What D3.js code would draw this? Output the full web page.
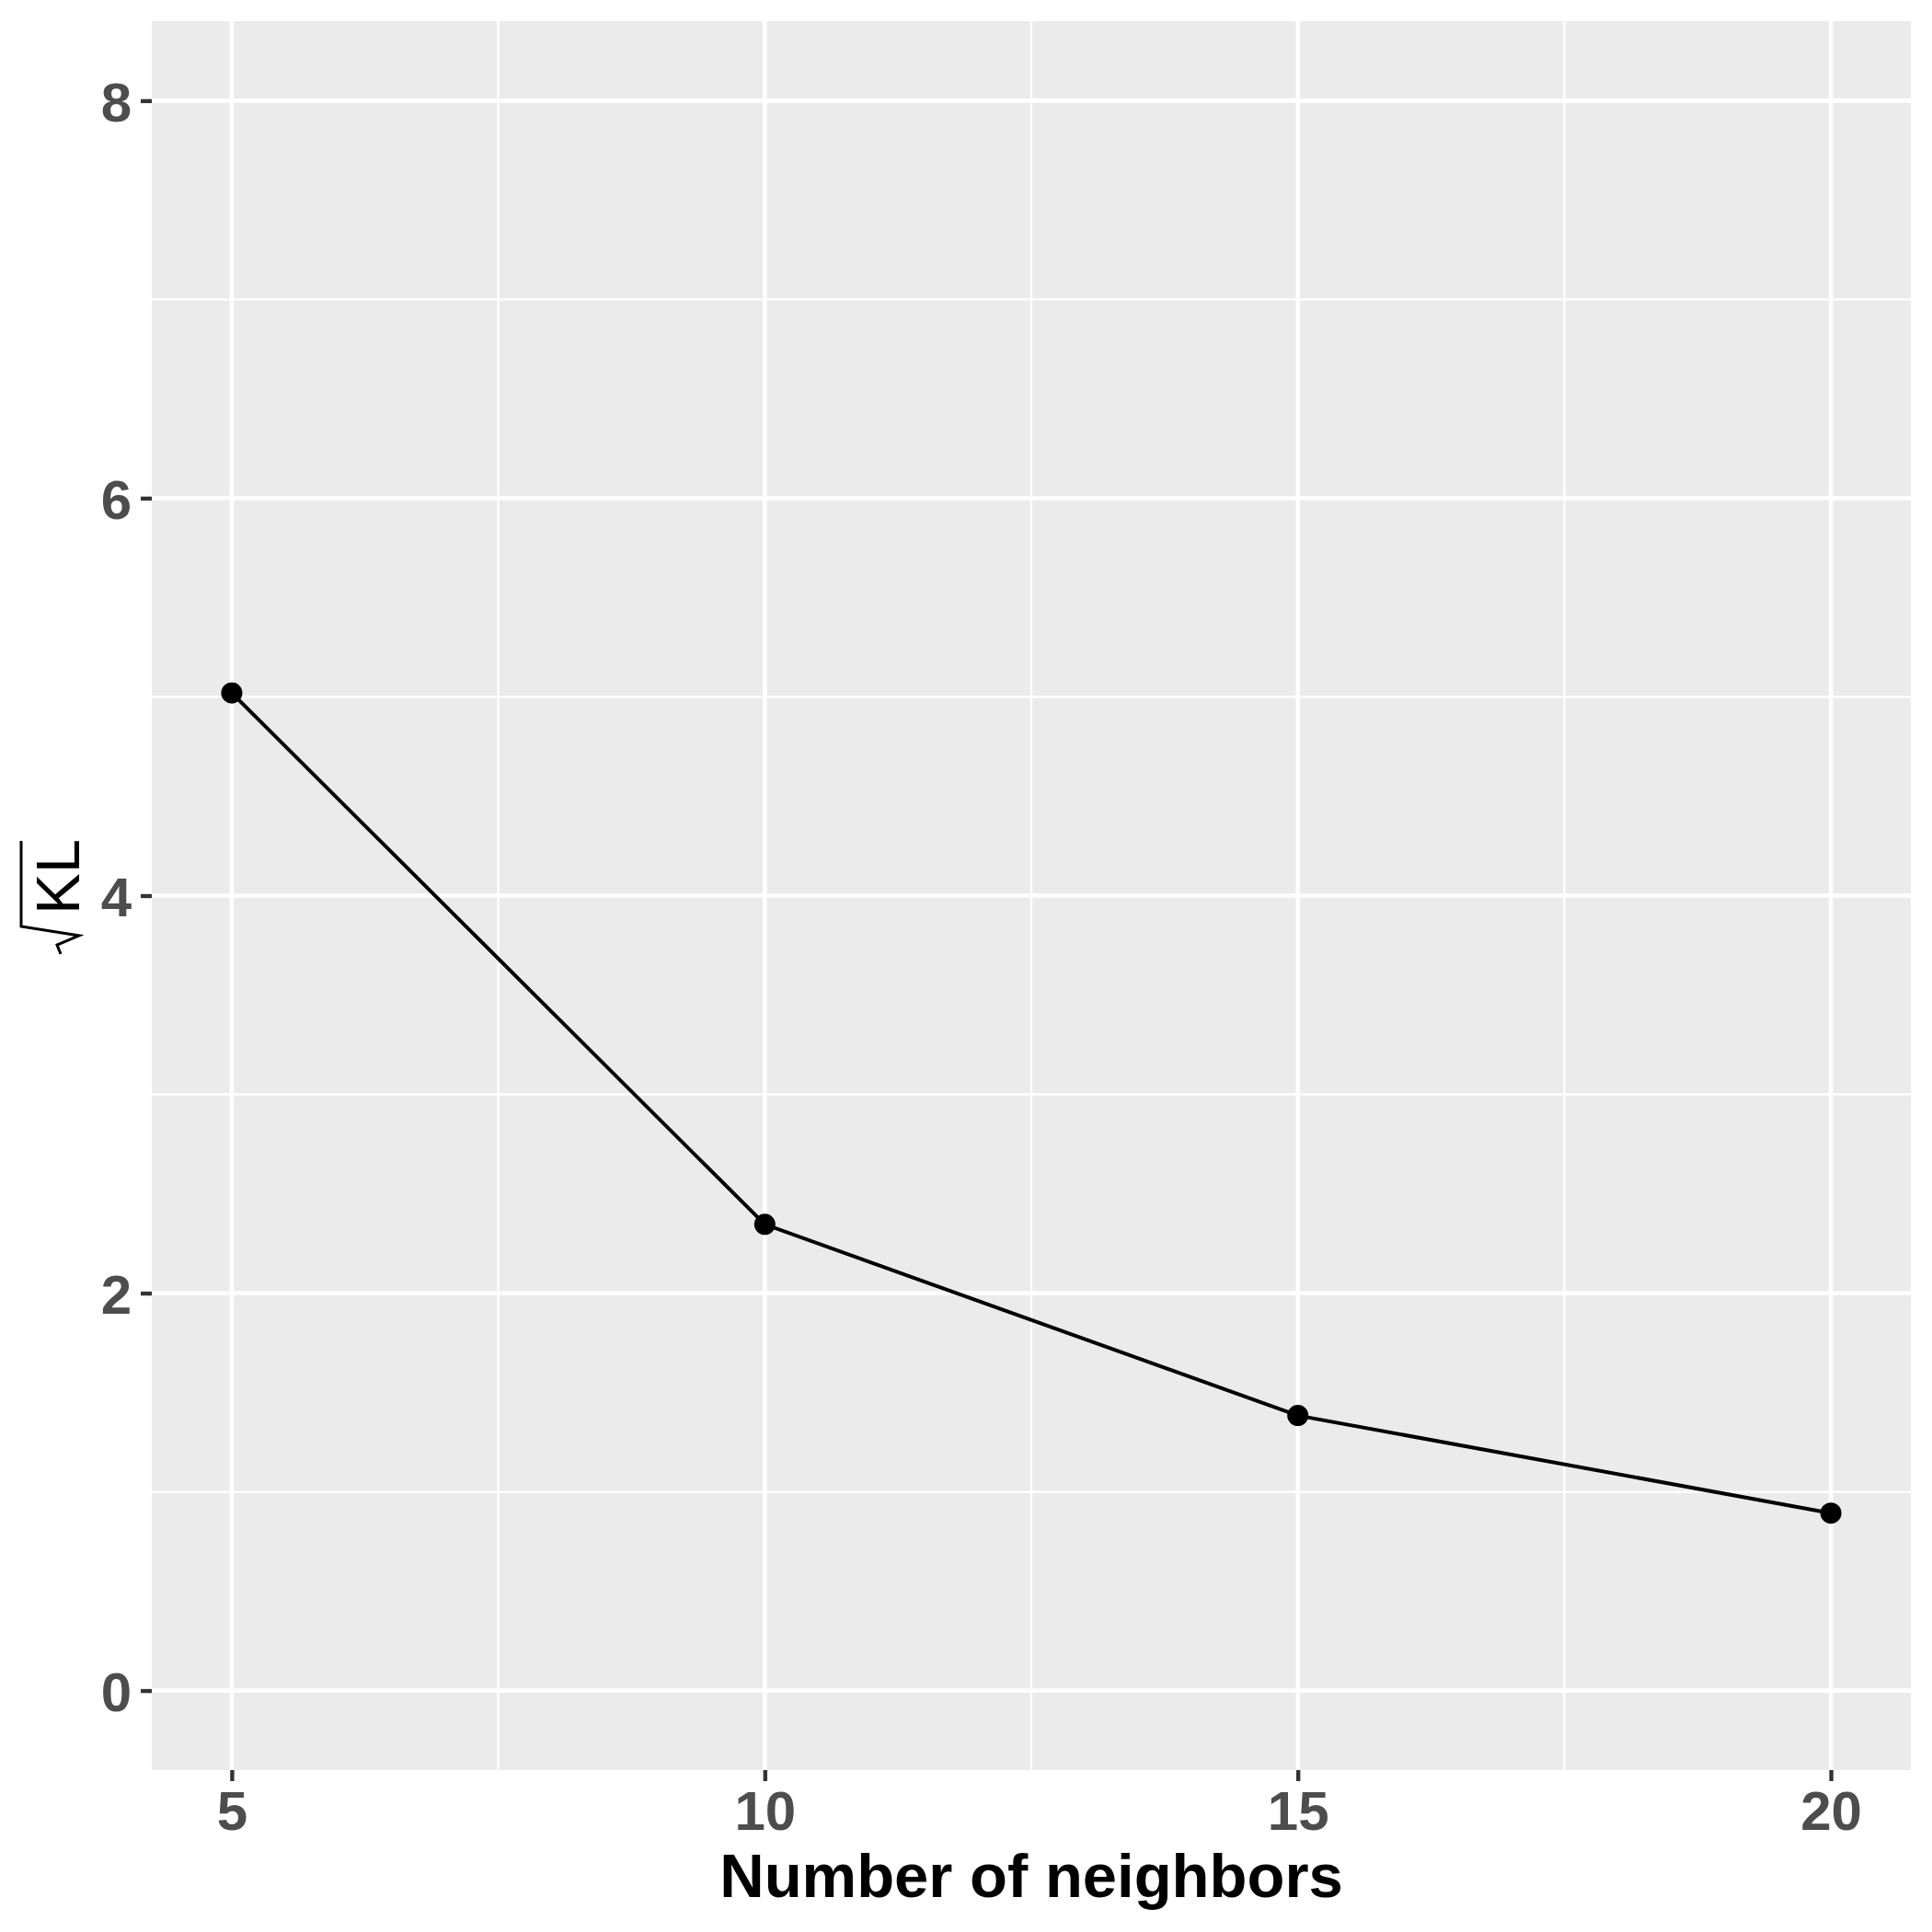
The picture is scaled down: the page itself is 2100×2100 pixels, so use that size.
<!DOCTYPE html>
<html>
<head>
<meta charset="utf-8">
<script src="https://cdn.jsdelivr.net/npm/d3@7"></script>
<style>
  body { margin: 0; background: #fff; }
  svg { display: block; font-family: "Liberation Sans", Arial, sans-serif; }
</style>
</head>
<body>
<svg id="chart" width="2100" height="2100"></svg>
<script>
const neighbors = [5, 10, 15, 20];
const sqrtKL = [5.02, 2.346, 1.384, 0.893];
const xTicks = [5, 10, 15, 20];
const yTicks = [0, 2, 4, 6, 8];

const svg = d3.select("#chart");
const panel = { left: 165, right: 2077, top: 23, bottom: 1924 };

const x = d3.scaleLinear().domain([4.25, 20.75]).range([panel.left, panel.right]);
const y = d3.scaleLinear().domain([-0.4, 8.4]).range([panel.bottom, panel.top]);

// panel background
svg.append("rect")
	.attr("x", panel.left)
	.attr("y", panel.top)
	.attr("width", panel.right - panel.left)
	.attr("height", panel.bottom - panel.top)
	.attr("fill", "#EBEBEB");

// minor grid lines (midpoints between major ticks)
const xMinor = d3.range(1, xTicks.length).map((i) => (xTicks[i - 1] + xTicks[i]) / 2);
const yMinor = d3.range(1, yTicks.length).map((i) => (yTicks[i - 1] + yTicks[i]) / 2);

const grid = svg.append("g");
grid.selectAll(".vminor")
	.data(xMinor)
	.enter()
	.append("line")
	.attr("x1", (d) => x(d)).attr("x2", (d) => x(d))
	.attr("y1", panel.top).attr("y2", panel.bottom)
	.attr("stroke", "#fff").attr("stroke-width", 2.3);
grid.selectAll(".hminor")
	.data(yMinor)
	.enter()
	.append("line")
	.attr("y1", (d) => y(d)).attr("y2", (d) => y(d))
	.attr("x1", panel.left).attr("x2", panel.right)
	.attr("stroke", "#fff").attr("stroke-width", 2.3);
grid.selectAll(".vmajor")
	.data(xTicks)
	.enter()
	.append("line")
	.attr("x1", (d) => x(d)).attr("x2", (d) => x(d))
	.attr("y1", panel.top).attr("y2", panel.bottom)
	.attr("stroke", "#fff").attr("stroke-width", 4.6);
grid.selectAll(".hmajor")
	.data(yTicks)
	.enter()
	.append("line")
	.attr("y1", (d) => y(d)).attr("y2", (d) => y(d))
	.attr("x1", panel.left).attr("x2", panel.right)
	.attr("stroke", "#fff").attr("stroke-width", 4.6);

// axes
const xAxis = svg.append("g")
	.attr("transform", `translate(0, ${panel.bottom})`)
	.call(d3.axisBottom(x).tickValues(xTicks).tickSize(12).tickPadding(10));
const yAxis = svg.append("g")
	.attr("transform", `translate(${panel.left}, 0)`)
	.call(d3.axisLeft(y).tickValues(yTicks).tickSize(12).tickPadding(10));

[xAxis, yAxis].forEach((ax) => {
	ax.select(".domain").remove();
	ax.selectAll(".tick line").attr("stroke", "#333333").attr("stroke-width", 4.4);
	ax.selectAll(".tick text")
		.attr("fill", "#4D4D4D")
		.attr("font-size", 60)
		.attr("font-weight", "bold")
		.attr("font-family", "Liberation Sans, Arial, sans-serif");
});
xAxis.selectAll(".tick text").attr("dy", null).attr("y", 65);
yAxis.selectAll(".tick text").attr("dy", "0.36em");

// line + points
const pts = neighbors.map((n, i) => ({ n: n, v: sqrtKL[i] }));
const line = d3.line().x((d) => x(d.n)).y((d) => y(d.v));

svg.append("path")
	.datum(pts)
	.attr("d", line)
	.attr("fill", "none")
	.attr("stroke", "#000")
	.attr("stroke-width", 4);

svg.selectAll(".pt")
	.data(pts)
	.enter()
	.append("circle")
	.attr("cx", (d) => x(d.n))
	.attr("cy", (d) => y(d.v))
	.attr("r", 11.5)
	.attr("fill", "#000");

// x title
svg.append("text")
	.attr("x", (panel.left + panel.right) / 2)
	.attr("y", 2062)
	.attr("text-anchor", "middle")
	.attr("font-size", 67)
	.attr("font-weight", "bold")
	.attr("fill", "#000")
	.text("Number of neighbors");

// y title: sqrt(KL), rotated
const yLab = svg.append("g").attr("transform", "translate(86, 1000) rotate(-90)");
yLab.append("text")
	.attr("x", 6)
	.attr("y", 0)
	.attr("font-size", 67)
	.attr("fill", "#000")
	.text("KL");
yLab.append("path")
	.attr("d", "M86,-63 L-7,-63 L-17,0 L-27,-24 L-37,-20")
	.attr("fill", "none")
	.attr("stroke", "#000")
	.attr("stroke-width", 3);
</script>
</body>
</html>
